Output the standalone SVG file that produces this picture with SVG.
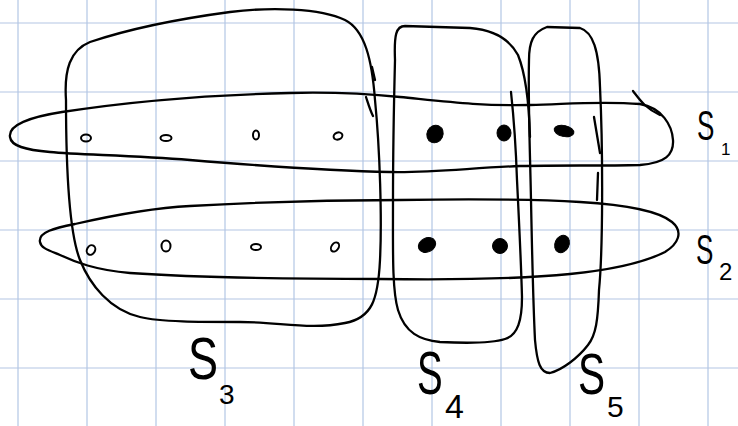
<svg xmlns="http://www.w3.org/2000/svg" width="738" height="426" viewBox="0 0 738 426">
<defs>
<style>
.grid line{stroke:#b3c6e4;stroke-width:1.2}
.pen{fill:none;stroke:#000;stroke-width:2.3;stroke-linecap:round;stroke-linejoin:round}
.hollow{fill:none;stroke:#000;stroke-width:2}
.full{fill:#000;stroke:#000;stroke-width:1}
.lbl{font-family:"Liberation Sans","DejaVu Sans",sans-serif;fill:#000}
</style>
</defs>
<rect width="738" height="426" fill="#fff"/>
<g class="grid" id="grid">
<line x1="18" y1="0" x2="18" y2="426"/><line x1="87" y1="0" x2="87" y2="426"/><line x1="156" y1="0" x2="156" y2="426"/><line x1="225" y1="0" x2="225" y2="426"/><line x1="294" y1="0" x2="294" y2="426"/><line x1="363" y1="0" x2="363" y2="426"/><line x1="432" y1="0" x2="432" y2="426"/><line x1="501" y1="0" x2="501" y2="426"/><line x1="570" y1="0" x2="570" y2="426"/><line x1="639" y1="0" x2="639" y2="426"/><line x1="708" y1="0" x2="708" y2="426"/>
<line x1="0" y1="23" x2="738" y2="23"/><line x1="0" y1="92" x2="738" y2="92"/><line x1="0" y1="161" x2="738" y2="161"/><line x1="0" y1="230" x2="738" y2="230"/><line x1="0" y1="299" x2="738" y2="299"/><line x1="0" y1="368" x2="738" y2="368"/>
</g>
<g id="S3">
<path class="pen" d="M66,100 C64,70 70,50 90,42 C120,32 170,20 230,12 C270,7 320,8 345,20 C365,30 372,60 375,100 C380,150 382,220 380,260 C378,300 372,318 345,323 C310,330 280,322 240,322 C200,322 160,322 140,317 C110,310 90,285 80,260 C68,230 66,160 66,100 Z"/>
<path class="pen" d="M372,67 L375,80 M366,97 C368,103 370,110 373,116"/>
<text class="lbl" font-size="60" transform="translate(188,379) scale(0.75,1)">S</text>
<text class="lbl" font-size="28" x="219" y="404">3</text>
</g>
<g id="S4">
<path class="pen" d="M395,60 C394,35 396,26 405,26 L470,28 C495,30 510,40 518,55 C526,75 529,100 530,137 M511,92 C514,120 516,150 517,180 C519,220 521,260 522,297 C522,320 518,335 505,339 C490,344 460,343 440,342 C420,340 405,333 398,310 C392,290 393,250 393,200 C393,150 394,100 395,60"/>
<text class="lbl" font-size="62" transform="translate(417,394) scale(0.62,1)">S</text>
<text class="lbl" font-size="34" x="445" y="418">4</text>
</g>
<g id="S5">
<path class="pen" d="M529,60 C529,42 533,32 547,27 L580,28 C593,32 599,50 600,87 C603,150 603,250 599,290 C598,320 596,335 588,345 C578,358 562,370 550,373 C540,373 537,362 535,340 C533,300 532,250 531,200 C530,150 528,100 529,60 Z"/>
<path class="pen" d="M594,117 L600,153 M598,173 L597,200"/>
<text class="lbl" font-size="58" transform="translate(578,394) scale(0.7,1)">S</text>
<text class="lbl" font-size="30" x="607" y="417">5</text>
</g>
<g id="S1">
<path class="pen" d="M10,137 C8,125 30,117 62,112 C120,103 200,95 290,93 C330,92 360,93 400,97 C450,102 480,106 530,105 C570,104 600,101 640,104 C662,108 672,125 673,140 C674,155 665,163 640,165 C600,166 560,165 520,166 C470,168 430,173 390,172 C330,171 250,165 190,160 C130,155 80,155 50,152 C25,150 11,146 10,137 Z"/>
<path class="pen" d="M633,91 C640,100 645,108 660,115"/>
<text class="lbl" font-size="42" transform="translate(697,140) scale(0.62,1)">S</text>
<text class="lbl" font-size="17" x="721" y="155">1</text>
</g>
<g id="S2">
<path class="pen" d="M40,242 C38,232 55,228 75,224 C110,216 150,208 190,206 C260,202 330,200 400,200 C470,199 530,199 580,202 C630,205 660,212 672,222 C684,232 678,244 665,252 C645,262 610,270 570,274 C520,279 450,280 380,279 C300,279 200,278 130,273 C95,270 75,262 60,255 C48,250 41,248 40,242 Z"/>
<text class="lbl" font-size="42" transform="translate(696,264) scale(0.62,1)">S</text>
<text class="lbl" font-size="24" x="719" y="280">2</text>
</g>
<g id="elements">
<ellipse class="hollow" cx="86" cy="138" rx="5" ry="3.5"/>
<ellipse class="hollow" cx="166" cy="138" rx="5.5" ry="3"/>
<ellipse class="hollow" cx="256" cy="135" rx="3" ry="4.5"/>
<ellipse class="hollow" cx="338" cy="136" rx="4.5" ry="3.5" transform="rotate(-20 338 136)"/>
<ellipse class="full" cx="435" cy="134" rx="8" ry="9" transform="rotate(25 435 134)"/>
<ellipse class="full" cx="504" cy="133" rx="7" ry="8"/>
<ellipse class="full" cx="564" cy="131" rx="10" ry="5.5" transform="rotate(12 564 131)"/>
<ellipse class="hollow" cx="91" cy="250" rx="4" ry="5" transform="rotate(30 91 250)"/>
<ellipse class="hollow" cx="166" cy="246" rx="4.5" ry="5.5"/>
<ellipse class="hollow" cx="256" cy="247" rx="5" ry="3"/>
<ellipse class="hollow" cx="335" cy="247" rx="3.5" ry="5" transform="rotate(35 335 247)"/>
<ellipse class="full" cx="427" cy="245" rx="9" ry="7" transform="rotate(-25 427 245)"/>
<ellipse class="full" cx="500" cy="246" rx="7.5" ry="7.5"/>
<ellipse class="full" cx="562" cy="244" rx="7" ry="9" transform="rotate(25 562 244)"/>
</g>
</svg>
